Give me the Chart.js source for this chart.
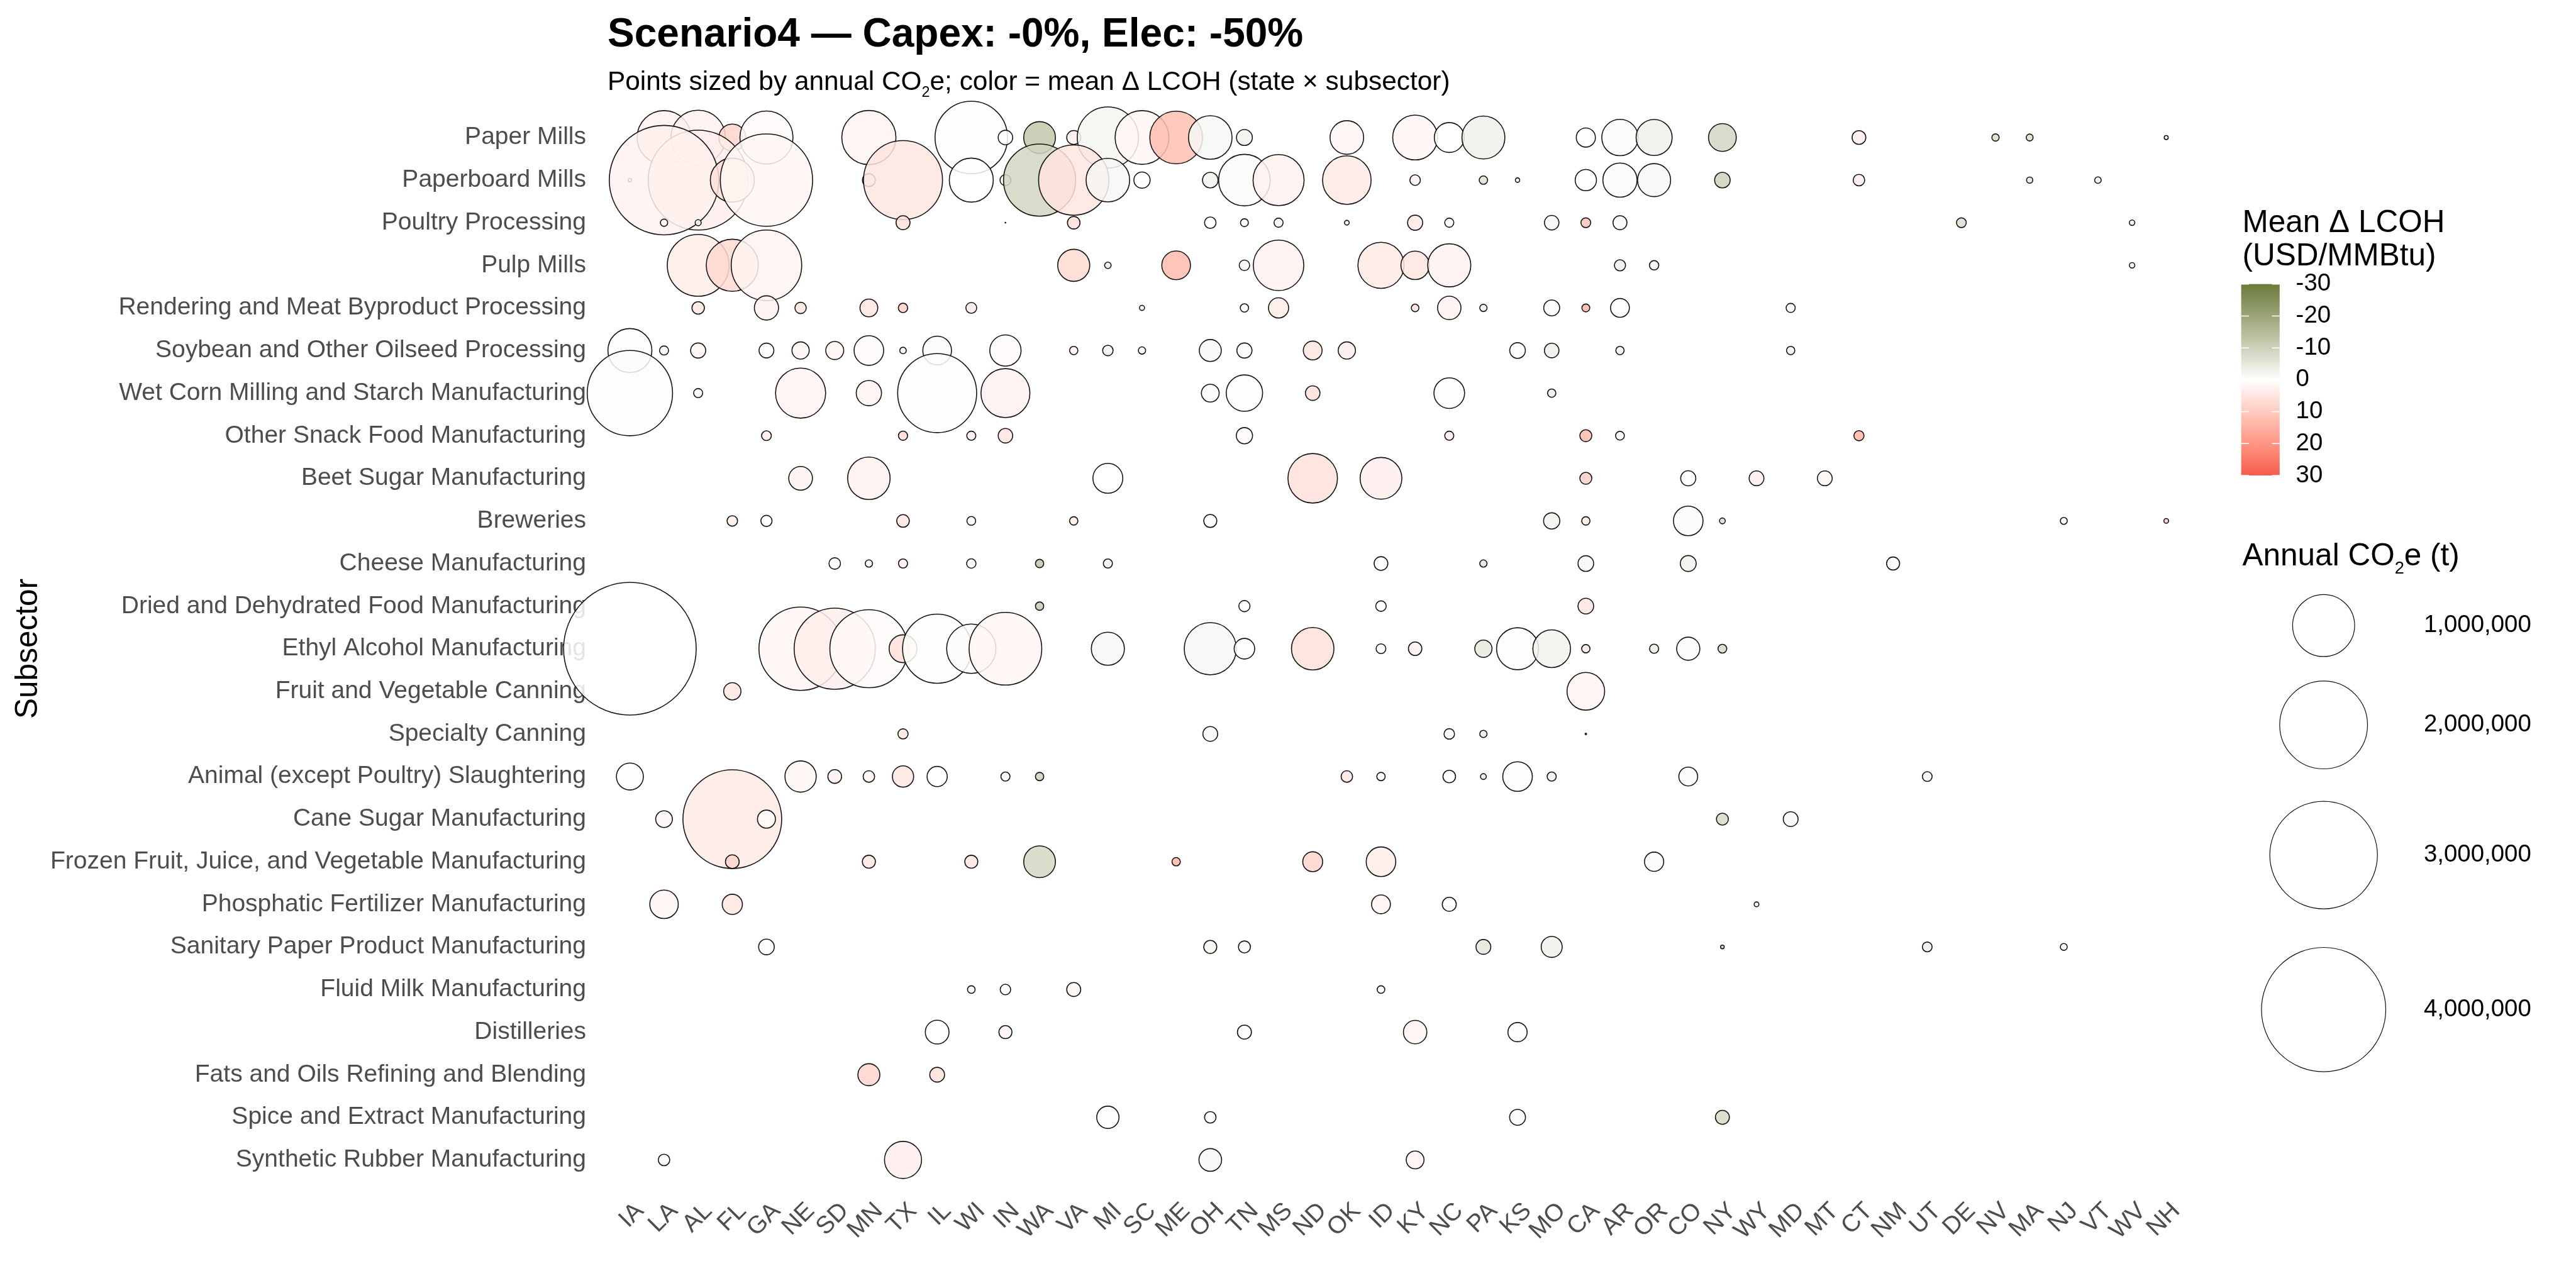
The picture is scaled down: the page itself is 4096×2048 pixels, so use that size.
<!DOCTYPE html>
<html><head><meta charset="utf-8">
<script src="https://cdn.jsdelivr.net/npm/chart.js@4.4.1/dist/chart.umd.min.js"></script>
<style>html,body{margin:0;padding:0;background:#fff;overflow:hidden}canvas{display:block}</style>
</head><body>
<canvas id="c" width="4096" height="2048" style="width:4096px;height:2048px"></canvas>
<script>
// ---------------- data ----------------
const states = ["IA","LA","AL","FL","GA","NE","SD","MN","TX","IL","WI","IN","WA","VA","MI","SC","ME","OH","TN","MS","ND","OK","ID","KY","NC","PA","KS","MO","CA","AR","OR","CO","NY","WY","MD","MT","CT","NM","UT","DE","NV","MA","NJ","VT","WV","NH"];
const subsectors = ["Paper Mills","Paperboard Mills","Poultry Processing","Pulp Mills","Rendering and Meat Byproduct Processing","Soybean and Other Oilseed Processing","Wet Corn Milling and Starch Manufacturing","Other Snack Food Manufacturing","Beet Sugar Manufacturing","Breweries","Cheese Manufacturing","Dried and Dehydrated Food Manufacturing","Ethyl Alcohol Manufacturing","Fruit and Vegetable Canning","Specialty Canning","Animal (except Poultry) Slaughtering","Cane Sugar Manufacturing","Frozen Fruit, Juice, and Vegetable Manufacturing","Phosphatic Fertilizer Manufacturing","Sanitary Paper Product Manufacturing","Fluid Milk Manufacturing","Distilleries","Fats and Oils Refining and Blending","Spice and Extract Manufacturing","Synthetic Rubber Manufacturing"];
const lcohTicks = [-30,-20,-10,0,10,20,30];
const sizeBreaks = [1000000,2000000,3000000,4000000];
const sizeLabels = ["1,000,000","2,000,000","3,000,000","4,000,000"];

// each entry: [state, annual CO2e (t), mean delta LCOH (USD/MMBtu)]
const paperMills = [["LA",760000,2.5],["AL",780000,2.5],["FL",193000,8],["GA",740000,1],["MN",770000,2],["WI",1375000,-0.5],["IN",58000,0],["WA",268000,-12],["VA",54000,3],["MI",980000,-2],["SC",760000,1.5],["ME",730000,12],["OH",500000,-1.5],["TN",69000,-2.5],["OK",300000,1.5],["KY",530000,1.5],["NC",238000,0],["PA",487000,-3],["CA",99000,0],["AR",350000,-1],["OR",344000,-3],["NY",206000,-9],["CT",52000,3],["NV",15400,-7],["MA",14000,-7],["NH",5200,0.5]];
const paperboardMills = [["IA",4000,2],["AL",2600000,3],["LA",3120000,2.5],["FL",510000,6],["GA",2220000,1.5],["MN",46000,1],["TX",1630000,5],["WI",510000,0],["IN",33000,0],["WA",1360000,-9],["VA",1290000,5],["MI",500000,-1.5],["SC",72000,0],["OH",66000,-2.5],["TN",700000,-1],["MS",685000,2.5],["OK",620000,4],["KY",31000,2],["PA",20000,-6],["KS",6000,0],["CA",122000,0],["AR",310000,-1],["OR",290000,-1.5],["NY",66000,-10],["CT",37000,3],["MA",11400,-5],["VT",12600,2]];
const poultryProcessing = [["LA",15400,0],["AL",11000,0],["TX",54000,6],["IN",150,0],["VA",44000,6],["OH",37000,0],["TN",18000,0],["MS",23500,2],["OK",7000,0],["KY",62500,4],["NC",23500,0],["MO",58000,-1.5],["CA",27000,11],["AR",54000,-1.5],["DE",27000,-7],["WV",9000,2]];
const pulpMills = [["AL",1000000,3.5],["FL",714000,7],["GA",1300000,2],["VA",273000,7],["MI",12600,-2],["ME",220000,13],["TN",31000,-2],["MS",670000,2.5],["ID",560000,4],["KY",216000,5],["NC",490000,2.5],["AR",35000,-3],["OR",25000,-2],["WV",9000,0]];
const rendering = [["AL",43000,4.5],["GA",157000,2.5],["NE",36000,5],["MN",86000,5],["TX",25000,9],["WI",33000,3.5],["SC",8000,2],["TN",20000,0],["MS",110000,3.5],["KY",16700,5],["NC",147000,2.5],["PA",15400,-2],["MO",69000,-1],["CA",18000,14],["AR",96000,-0.5],["MD",23500,0]];
const soybean = [["IA",510000,-0.5],["LA",23500,2],["AL",62500,1.5],["GA",60000,0],["NE",81000,1.5],["SD",88000,2],["MN",233000,1],["TX",12600,2],["IL",220000,-1],["IN",260000,1],["VA",20000,2],["MI",31000,-2.5],["SC",15400,-0.5],["OH",130000,-1.5],["TN",62500,-1],["ND",96000,5],["OK",81000,3],["KS",67000,0],["MO",58000,-3],["AR",20000,-2.5],["MD",20000,-2.5]];
const wetCorn = [["IA",1900000,0.5],["AL",23500,0],["NE",660000,2],["MN",171000,2],["IL",1630000,0.3],["IN",630000,2.5],["OH",86000,-1],["TN",350000,-0.5],["ND",58000,6],["NC",250000,0.3],["MO",20000,-3.5]];
const snackFood = [["GA",27000,3],["TX",24000,7],["WI",23500,3],["IN",58000,5],["TN",72000,1],["NC",23500,3],["CA",40000,13],["AR",22000,0],["CT",29000,14]];
const beetSugar = [["NE",151000,2.5],["MN",476000,2.5],["MI",238000,0],["ND",645000,6],["ID",460000,3],["CA",40000,9],["CO",62500,0],["WY",60000,3],["MT",60000,1.5]];
const breweries = [["FL",31000,3.5],["GA",35000,0],["TX",44000,5],["WI",22000,0],["VA",20000,3.5],["OH",47000,-1],["MO",72000,-2.5],["CA",20000,4],["CO",233000,-1],["NY",10200,-7],["NJ",14000,0],["NH",7000,9]];
const cheese = [["SD",37000,0],["MN",15400,0],["TX",23500,3.5],["WI",25000,-0.3],["WA",20000,-12],["MI",23500,-2.5],["ID",52000,-0.5],["PA",15400,-5.5],["CA",67000,-1.5],["CO",69000,-2.5],["NM",47000,-1]];
const driedFood = [["WA",20000,-11],["TN",35000,0],["ID",31000,1],["CA",67000,5]];
const ethylAlcohol = [["IA",4570000,0],["NE",1810000,1.5],["SD",1720000,3],["MN",1590000,1],["TX",206000,5.5],["IL",1250000,-0.3],["WI",640000,0.5],["IN",1380000,1.5],["MI",290000,-1.5],["OH",714000,-1.5],["TN",114000,-0.5],["ND",476000,6],["ID",27000,1],["KY",50000,2.5],["PA",81000,-4.5],["KS",465000,-0.5],["MO",375000,-2.5],["CA",20000,4],["OR",23500,-3],["CO",144000,-1],["NY",22000,-8]];
const fruitVegCanning = [["FL",81000,4.5],["CA",375000,2]];
const specialtyCanning = [["TX",29000,5],["OH",60000,-1.5],["NC",31000,0],["PA",15400,-4],["CA",1000,0]];
const animalSlaughter = [["IA",194000,-0.3],["NE",260000,1.5],["SD",52000,2.5],["MN",37000,2],["TX",122000,5],["IL",110000,0],["IN",23500,1.5],["WA",20000,-10],["OK",37000,4.5],["ID",20000,1.5],["NC",44000,0],["PA",10200,-4],["KS",233000,0.5],["MO",23500,-3],["CO",96000,-1],["UT",27000,-2]];
const caneSugar = [["LA",76000,1.5],["FL",2540000,4],["GA",88000,0.5],["NY",40000,-8],["MD",60000,-1.5]];
const frozenFood = [["FL",52000,8],["MN",47000,5],["WI",47000,5],["WA",268000,-8.5],["ME",20000,14],["ND",107000,8],["ID",233000,3.5],["OR",100000,-1]];
const phosphatic = [["LA",216000,1.5],["FL",110000,5],["ID",96000,2],["NC",54000,0.5],["WY",7000,2]];
const sanitaryPaper = [["GA",67000,-0.3],["OH",47000,-2],["TN",40000,-1.5],["PA",60000,-5.5],["MO",119000,-3],["NY",4400,-8],["UT",27000,-3],["NJ",14000,0]];
const fluidMilk = [["WI",16700,0],["IN",31000,0],["VA",54000,1.5],["ID",16700,0]];
const distilleries = [["IL",151000,0],["IN",47000,1.5],["TN",54000,-0.5],["KY",147000,2],["KS",100000,0.5]];
const fatsOils = [["MN",130000,8],["IL",60000,6]];
const spiceExtract = [["MI",134000,-0.5],["OH",37000,-1],["KS",69000,1],["NY",54000,-8]];
const syntheticRubber = [["LA",37000,1.5],["TX",364000,3],["OH",138000,-1.5],["KY",86000,2]];

const rowsData = [paperMills,paperboardMills,poultryProcessing,pulpMills,rendering,soybean,wetCorn,snackFood,beetSugar,breweries,cheese,driedFood,ethylAlcohol,fruitVegCanning,specialtyCanning,animalSlaughter,caneSugar,frozenFood,phosphatic,sanitaryPaper,fluidMilk,distilleries,fatsOils,spiceExtract,syntheticRubber];

// ---------------- styling helpers ----------------
const S = 0.8533;
const BW = 1.6;
const FONT = '"Liberation Sans", Arial, Helvetica, sans-serif';
const LOW = [107,123,58], HIGH = [242,92,75], MID = [255,255,255];
const LIMIT = 30;
const FILL_ALPHA = 0.85;

function diamFor(t){ return S*(1 + 116*Math.sqrt(t/1e6)); }
function radiusFor(t){ return Math.max(0.6, diamFor(t)/2 - BW/2); }

function lin(c){ c/=255; return c<=0.04045 ? c/12.92 : Math.pow((c+0.055)/1.055,2.4); }
function delin(c){ const v = c<=0.0031308 ? 12.92*c : 1.055*Math.pow(c,1/2.4)-0.055; return Math.max(0,Math.min(255,Math.round(v*255))); }
function toLab(rgb){
  const R=lin(rgb[0]),G=lin(rgb[1]),B=lin(rgb[2]);
  let X=(0.4124*R+0.3576*G+0.1805*B)/0.95047, Y=(0.2126*R+0.7152*G+0.0722*B), Z=(0.0193*R+0.1192*G+0.9505*B)/1.08883;
  const f=t=> t>0.008856 ? Math.cbrt(t) : 7.787*t+16/116;
  const fx=f(X),fy=f(Y),fz=f(Z);
  return [116*fy-16, 500*(fx-fy), 200*(fy-fz)];
}
function fromLab(lab){
  const fy=(lab[0]+16)/116, fx=fy+lab[1]/500, fz=fy-lab[2]/200;
  const finv=t=> t*t*t>0.008856 ? t*t*t : (t-16/116)/7.787;
  const X=finv(fx)*0.95047, Y=finv(fy), Z=finv(fz)*1.08883;
  const R= 3.2406*X-1.5372*Y-0.4986*Z, G=-0.9689*X+1.8758*Y+0.0415*Z, B=0.0557*X-0.2040*Y+1.0570*Z;
  return [delin(R),delin(G),delin(B)];
}
const LAB_LOW=toLab(LOW), LAB_HIGH=toLab(HIGH), LAB_MID=toLab(MID);
function colorFor(v, alpha){
  const t=Math.max(-1,Math.min(1,v/LIMIT));
  const end = t<0 ? LAB_LOW : LAB_HIGH, a=Math.abs(t);
  const lab=[0,1,2].map(i=>LAB_MID[i]+(end[i]-LAB_MID[i])*a);
  const c=fromLab(lab);
  return `rgba(${c[0]},${c[1]},${c[2]},${alpha})`;
}

// ---------------- build chart data ----------------
const bubbles = [];
rowsData.forEach((row, j) => {
  row.forEach(([st, co2, lcoh]) => {
    bubbles.push({x: states.indexOf(st), y: j, r: radiusFor(co2), co2: co2, lcoh: lcoh});
  });
});

function drawRich(ctx, parts, x, y, size, weight){
  let cx = x;
  parts.forEach(([txt, sub]) => {
    const fs = sub ? size*0.55 : size;
    ctx.font = `${weight||''} ${fs}px ${FONT}`;
    ctx.fillText(txt, cx, sub ? y + size*0.27 : y);
    cx += ctx.measureText(txt).width;
  });
}

const overlayPlugin = {
  id: 'overlay',
  afterDraw(chart){
    const ctx = chart.ctx;
    ctx.save();
    ctx.fillStyle = '#000';
    ctx.textAlign = 'left';
    ctx.textBaseline = 'alphabetic';
    // title & subtitle
    ctx.font = `bold 64px ${FONT}`;
    ctx.fillText('Scenario4 \u2014 Capex: -0%, Elec: -50%', 966, 74);
    drawRich(ctx, [['Points sized by annual CO',false],['2',true],['e; color = mean \u0394 LCOH (state \u00d7 subsector)',false]], 966, 143, 42.4);

    // colour legend
    const lx = 3565.5;
    ctx.font = `49.5px ${FONT}`;
    ctx.fillText('Mean \u0394 LCOH', lx, 369);
    ctx.fillText('(USD/MMBtu)', lx, 422);
    const bx0 = 3563.6, bx1 = 3624.8, by0 = 451.7, by1 = 756;
    const grad = ctx.createLinearGradient(0, by0, 0, by1);
    for (let k=0;k<=60;k++){ const v=-LIMIT + 2*LIMIT*k/60; grad.addColorStop(k/60, colorFor(v,1)); }
    ctx.fillStyle = grad;
    ctx.fillRect(bx0, by0, bx1-bx0, by1-by0);
    const tl = (bx1-bx0)/5;
    ctx.strokeStyle = '#fff'; ctx.lineWidth = 1.5;
    ctx.fillStyle = '#000';
    ctx.font = `38.4px ${FONT}`;
    ctx.textBaseline = 'middle';
    lcohTicks.forEach(v => {
      const y = by0 + (v + LIMIT)/(2*LIMIT)*(by1-by0);
      ctx.beginPath(); ctx.moveTo(bx0, y); ctx.lineTo(bx0+tl, y); ctx.moveTo(bx1-tl, y); ctx.lineTo(bx1, y); ctx.stroke();
      ctx.fillText(String(v), 3650.6, y);
    });

    // size legend
    ctx.textBaseline = 'alphabetic';
    drawRich(ctx, [['Annual CO',false],['2',true],['e (t)',false]], lx, 898.6, 49.5);
    const cx = 3694.7, cys = [994.6, 1152.7, 1359.6, 1605.3];
    ctx.textBaseline = 'middle';
    sizeBreaks.forEach((b, i) => {
      const r = diamFor(b)/2 - 0.6;
      ctx.beginPath(); ctx.arc(cx, cys[i], r, 0, Math.PI*2);
      ctx.fillStyle = '#fff'; ctx.fill();
      ctx.strokeStyle = '#111'; ctx.lineWidth = 1.2; ctx.stroke();
      ctx.fillStyle = '#000';
      ctx.font = `38.4px ${FONT}`;
      ctx.fillText(sizeLabels[i], 3854, cys[i]);
    });
    ctx.restore();
  }
};

const tickFont = {family: FONT, size: 39};
new Chart(document.getElementById('c'), {
  type: 'bubble',
  data: { datasets: [{
    data: bubbles,
    backgroundColor: ctx => colorFor(ctx.raw.lcoh, FILL_ALPHA),
    borderColor: 'rgba(10,10,10,0.95)',
    borderWidth: BW,
    hoverBorderWidth: BW,
    clip: false
  }]},
  options: {
    responsive: false,
    animation: false,
    devicePixelRatio: 1,
    events: [],
    layout: { padding: { left: 0, right: 619, top: 178, bottom: 0 } },
    plugins: { legend: {display:false}, tooltip: {enabled:false}, title: {display:false} },
    scales: {
      x: {
        type: 'linear', min: -0.6, max: 45.6,
        grid: {display:false}, border: {display:false},
        afterBuildTicks: ax => { ax.ticks = states.map((s,i)=>({value:i})); },
        afterFit: s => { s.height = 163; },
        ticks: { autoSkip:false, minRotation:45, maxRotation:45, font: tickFont, color:'#4d4d4d', padding: 10, labelOffset: 16,
          callback: v => states[v] }
      },
      y: {
        type: 'linear', min: -0.6, max: 24.6, reverse: true, z: 1,
        grid: {display:false}, border: {display:false},
        afterBuildTicks: ax => { ax.ticks = subsectors.map((s,i)=>({value:i})); },
        afterFit: s => { s.width = 969; },
        ticks: { autoSkip:false, font: tickFont, color:'#4d4d4d', padding: 29, callback: v => subsectors[v] },
        title: { display:true, text:'Subsector', color:'#000', font:{family:FONT, size:49.5, lineHeight:1}, padding:{top:21, bottom:0} }
      }
    }
  },
  plugins: [overlayPlugin]
});
</script>
</body></html>
